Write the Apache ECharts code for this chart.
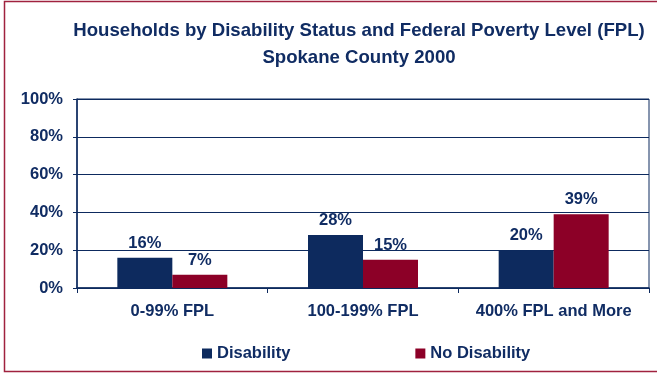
<!DOCTYPE html>
<html>
<head>
<meta charset="utf-8">
<script src="https://cdn.jsdelivr.net/npm/echarts@6/dist/echarts.min.js"></script>
<style>
  html, body { margin: 0; padding: 0; background: #fff; }
  #chart { width: 657px; height: 373px; }
</style>
</head>
<body>
<div id="chart"></div>
<script>
// Households by disability status and federal poverty level, Spokane County 2000
const categories = ['0-99% FPL', '100-199% FPL', '400% FPL and More'];
const disability = [16, 28, 20];
const noDisability = [7, 15, 39];
const yTicks = [0, 20, 40, 60, 80, 100];

const NAVY = '#0d2a5e';
const RED = '#8c0027';
const TEXT = '#102c63';
const FONT = 'Liberation Sans, Arial, sans-serif';

const chart = echarts.init(document.getElementById('chart'));

const labelStyle = {
  show: true,
  position: 'top',
  distance: 6,
  formatter: p => p.value + '%',
  color: TEXT,
  fontFamily: FONT,
  fontWeight: 'bold',
  fontSize: 16.5
};

chart.setOption({
  animation: false,
  backgroundColor: '#fff',
  graphic: [{
    type: 'rect',
    shape: { x: 4.5, y: 1.5, width: 660, height: 370 },
    style: { fill: 'none', stroke: '#a0223f', lineWidth: 1.5 },
    silent: true
  }],
  title: {
    text: 'Households by Disability Status and Federal Poverty Level (FPL)\nSpokane County 2000',
    left: 354,
    textAlign: 'center',
    top: 12,
    textStyle: {
      color: TEXT,
      fontFamily: FONT,
      fontWeight: 'bold',
      fontSize: 18.6,
      lineHeight: 27
    }
  },
  legend: {
    bottom: 6,
    left: 197,
    itemWidth: 10,
    itemHeight: 10,
    itemGap: 125,
    icon: 'rect',
    textStyle: {
      color: TEXT,
      fontFamily: FONT,
      fontWeight: 'bold',
      fontSize: 16.5
    },
    data: ['Disability', 'No Disability']
  },
  grid: {
    left: 77,
    right: 8,
    top: 99,
    bottom: 85,
    show: true,
    borderColor: NAVY,
    borderWidth: 1
  },
  xAxis: {
    type: 'category',
    data: categories,
    axisLine: { lineStyle: { color: NAVY, width: 1.5 } },
    axisTick: { show: true, alignWithLabel: false, length: 5, lineStyle: { color: NAVY } },
    axisLabel: {
      interval: 0,
      hideOverlap: false,
      color: TEXT,
      fontFamily: FONT,
      fontWeight: 'bold',
      fontSize: 16.5,
      margin: 15
    }
  },
  yAxis: {
    type: 'value',
    min: yTicks[0],
    max: yTicks[yTicks.length - 1],
    interval: yTicks[1] - yTicks[0],
    axisLine: { show: true, lineStyle: { color: NAVY, width: 1.5 } },
    axisTick: { show: true, length: 4, lineStyle: { color: NAVY } },
    splitLine: { lineStyle: { color: NAVY, width: 1 } },
    axisLabel: {
      color: TEXT,
      fontFamily: FONT,
      fontWeight: 'bold',
      fontSize: 16.5,
      margin: 14,
      formatter: v => v + '%'
    }
  },
  series: [
    {
      name: 'Disability',
      type: 'bar',
      data: disability,
      barWidth: 55,
      barGap: '0%',
      itemStyle: { color: NAVY },
      label: labelStyle
    },
    {
      name: 'No Disability',
      type: 'bar',
      data: noDisability,
      barWidth: 55,
      itemStyle: { color: RED },
      label: labelStyle
    }
  ]
});
</script>
</body>
</html>
